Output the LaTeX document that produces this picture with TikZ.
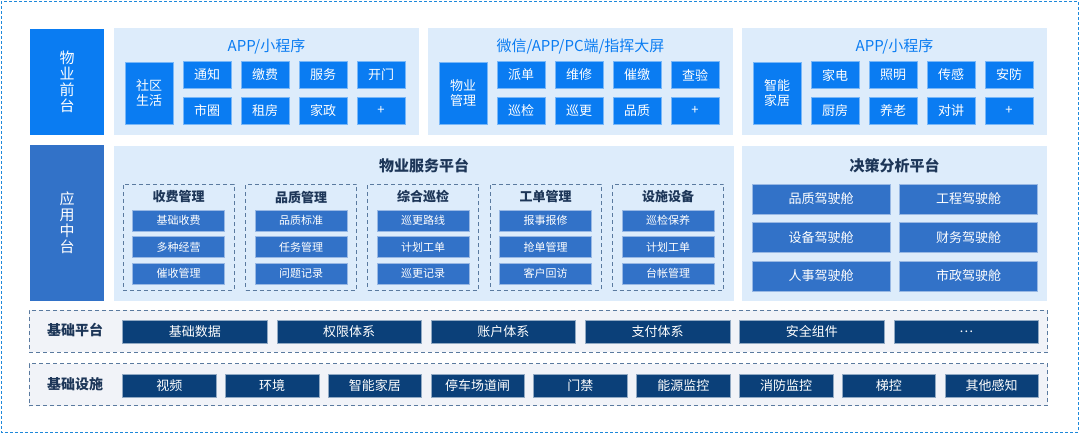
\documentclass[tikz,border=0pt]{standalone}
\usepackage{fontspec}
\setmainfont{Noto Sans CJK SC}
\definecolor{frontblue}{HTML}{0A7CF2}
\definecolor{midblue}{HTML}{3272C8}
\definecolor{navy}{HTML}{0B4079}
\definecolor{panelbg}{HTML}{DDECFB}
\definecolor{basebg}{HTML}{F1F3F8}
\definecolor{titledark}{HTML}{1D3658}
\definecolor{dashgray}{HTML}{5A7A9F}
\definecolor{outerblue}{HTML}{1E88DA}
\tikzset{
  box/.style={inner sep=0pt, text=white, align=center},
  layer/.style={box, fill=#1, font=\fontsize{15}{16}\selectfont, minimum width=74pt},
  panel/.style={inner sep=0pt, fill=panelbg},
  ptitle/.style={font=\fontsize{15}{18}\selectfont, text=#1},
  mtitle/.style={font=\fontsize{15}{18}\selectfont\bfseries, text=titledark},
  app/.style={box, fill=frontblue, draw=frontblue!55!white, line width=0.5pt,
    font=\fontsize{13}{15}\selectfont, minimum width=48pt, minimum height=27pt},
  appside/.style={app, minimum height=62pt},
  group/.style={draw=dashgray, dashed, dash pattern=on 4pt off 3pt, line width=0.9pt,
    minimum width=111pt, minimum height=106pt, inner sep=0pt},
  gtitle/.style={font=\fontsize{13}{15}\selectfont\bfseries, text=titledark},
  item/.style={box, fill=midblue, draw=midblue!50!white, line width=0.5pt,
    font=\fontsize{11}{13}\selectfont, minimum width=92pt, minimum height=21pt},
  cockpit/.style={box, fill=midblue, draw=midblue!50!white, line width=0.5pt,
    font=\fontsize{13}{15}\selectfont, minimum width=138pt, minimum height=30pt},
  base/.style={draw=dashgray, fill=basebg, dashed, dash pattern=on 4pt off 3pt,
    line width=0.9pt, minimum width=1018.5pt, minimum height=42pt, inner sep=0pt},
  blabel/.style={font=\fontsize{14}{16}\selectfont\bfseries, text=titledark},
  bbox/.style={box, fill=navy, draw=navy!45!white, line width=0.5pt,
    font=\fontsize{13}{15}\selectfont, minimum height=23pt}
}
\begin{document}
\begin{tikzpicture}[x=1pt,y=-1pt]
  \useasboundingbox (0,0) rectangle (1080,434);
  \draw[outerblue, dashed, dash pattern=on 3pt off 2pt, line width=0.9pt] (1,1) rectangle (1078,432);

  \node[layer=frontblue, minimum height=106pt] (front) at (67,82) {物\\业\\前\\台};
  \node[layer=midblue, minimum height=156pt] (middle) at (67,223) {应\\用\\中\\台};

  \node[panel, minimum width=305pt, minimum height=107pt] (panA) at (266.5,81.5) {};
  \node[panel, minimum width=305pt, minimum height=107pt] (panB) at (580.5,81.5) {};
  \node[panel, minimum width=305pt, minimum height=107pt] (panC) at (894.5,81.5) {};
  \node[ptitle=frontblue] (panAt) at (266.5,47) {APP/小程序};
  \node[ptitle=frontblue] (panBt) at (580.5,47) {微信/APP/PC端/指挥大屏};
  \node[ptitle=frontblue] (panCt) at (894.5,47) {APP/小程序};

  \node[appside] (sideA) at (149,93) {社区\\生活};
  \node[app] (a1) at (207,75) {通知};
  \node[app] (a2) at (265,75) {缴费};
  \node[app] (a3) at (323,75) {服务};
  \node[app] (a4) at (381,75) {开门};
  \node[app] (a5) at (207,110.5) {市圈};
  \node[app] (a6) at (265,110.5) {租房};
  \node[app] (a7) at (323,110.5) {家政};
  \node[app] (a8) at (381,110.5) {+};

  \node[appside] (sideB) at (463,93) {物业\\管理};
  \node[app] (b1) at (521,75) {派单};
  \node[app] (b2) at (579,75) {维修};
  \node[app] (b3) at (637,75) {催缴};
  \node[app] (b4) at (695,75) {查验};
  \node[app] (b5) at (521,110.5) {巡检};
  \node[app] (b6) at (579,110.5) {巡更};
  \node[app] (b7) at (637,110.5) {品质};
  \node[app] (b8) at (695,110.5) {+};

  \node[appside] (sideC) at (777,93) {智能\\家居};
  \node[app] (c1) at (835,75) {家电};
  \node[app] (c2) at (893,75) {照明};
  \node[app] (c3) at (951,75) {传感};
  \node[app] (c4) at (1009,75) {安防};
  \node[app] (c5) at (835,110.5) {厨房};
  \node[app] (c6) at (893,110.5) {养老};
  \node[app] (c7) at (951,110.5) {对讲};
  \node[app] (c8) at (1009,110.5) {+};

  \node[panel, minimum width=620pt, minimum height=155pt] (service) at (424,223.5) {};
  \node[panel, minimum width=305pt, minimum height=155pt] (decision) at (894.5,223.5) {};
  \node[mtitle] (servicet) at (424,166) {物业服务平台};
  \node[mtitle] (decisiont) at (894.5,166) {决策分析平台};

  \node[group] (fee) at (178.5,237) {};
  \node[gtitle] (feet) at (178.5,197) {收费管理};
  \node[item] (fee1) at (178.5,220.5) {基础收费};
  \node[item] (fee2) at (178.5,247) {多种经营};
  \node[item] (fee3) at (178.5,273.5) {催收管理};

  \node[group] (qual) at (301,237) {};
  \node[gtitle] (qualt) at (301,197) {品质管理};
  \node[item] (qual1) at (301,220.5) {品质标准};
  \node[item] (qual2) at (301,247) {任务管理};
  \node[item] (qual3) at (301,273.5) {问题记录};

  \node[group] (patrol) at (423,237) {};
  \node[gtitle] (patrolt) at (423,197) {综合巡检};
  \node[item] (patrol1) at (423,220.5) {巡更路线};
  \node[item] (patrol2) at (423,247) {计划工单};
  \node[item] (patrol3) at (423,273.5) {巡更记录};

  \node[group] (order) at (545.5,237) {};
  \node[gtitle] (ordert) at (545.5,197) {工单管理};
  \node[item] (order1) at (545.5,220.5) {报事报修};
  \node[item] (order2) at (545.5,247) {抢单管理};
  \node[item] (order3) at (545.5,273.5) {客户回访};

  \node[group] (equip) at (668,237) {};
  \node[gtitle] (equipt) at (668,197) {设施设备};
  \node[item] (equip1) at (668,220.5) {巡检保养};
  \node[item] (equip2) at (668,247) {计划工单};
  \node[item] (equip3) at (668,273.5) {台帐管理};

  \node[cockpit] (d1) at (821,199) {品质驾驶舱};
  \node[cockpit] (d2) at (968.5,199) {工程驾驶舱};
  \node[cockpit] (d3) at (821,237.5) {设备驾驶舱};
  \node[cockpit] (d4) at (968.5,237.5) {财务驾驶舱};
  \node[cockpit] (d5) at (821,276) {人事驾驶舱};
  \node[cockpit] (d6) at (968.5,276) {市政驾驶舱};

  \node[base] (platform) at (538.25,331) {};
  \node[blabel] (platformt) at (75,330.5) {基础平台};
  \node[bbox, minimum width=144.5pt] (p1) at (194.75,331.5) {基础数据};
  \node[bbox, minimum width=144.5pt] (p2) at (349.05,331.5) {权限体系};
  \node[bbox, minimum width=144.5pt] (p3) at (503.35,331.5) {账户体系};
  \node[bbox, minimum width=144.5pt] (p4) at (657.65,331.5) {支付体系};
  \node[bbox, minimum width=144.5pt] (p5) at (811.95,331.5) {安全组件};
  \node[bbox, minimum width=144.5pt] (p6) at (966.25,331.5) {…};

  \node[base] (infra) at (538.25,384.5) {};
  \node[blabel] (infrat) at (75,384.5) {基础设施};
  \node[bbox, minimum width=93.5pt] (i1) at (169.25,385.5) {视频};
  \node[bbox, minimum width=93.5pt] (i2) at (272.05,385.5) {环境};
  \node[bbox, minimum width=93.5pt] (i3) at (374.85,385.5) {智能家居};
  \node[bbox, minimum width=93.5pt] (i4) at (477.65,385.5) {停车场道闸};
  \node[bbox, minimum width=93.5pt] (i5) at (580.45,385.5) {门禁};
  \node[bbox, minimum width=93.5pt] (i6) at (683.25,385.5) {能源监控};
  \node[bbox, minimum width=93.5pt] (i7) at (786.05,385.5) {消防监控};
  \node[bbox, minimum width=93.5pt] (i8) at (888.85,385.5) {梯控};
  \node[bbox, minimum width=93.5pt] (i9) at (991.65,385.5) {其他感知};
\end{tikzpicture}
\end{document}
